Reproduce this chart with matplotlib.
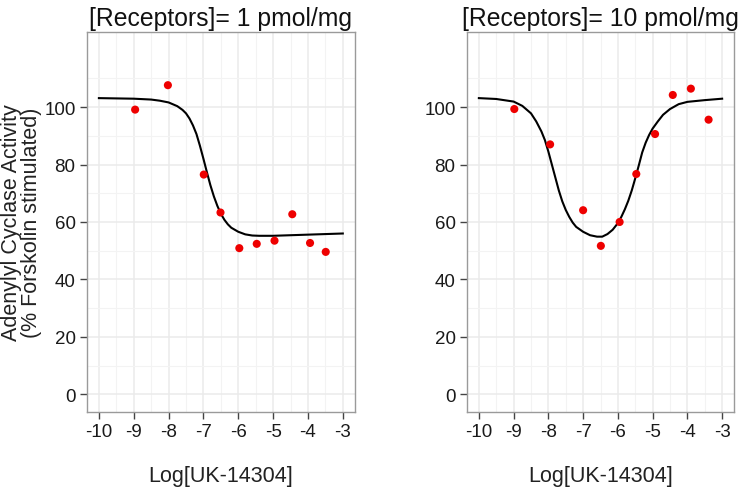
import matplotlib
matplotlib.use("Agg")
import matplotlib.pyplot as plt
from matplotlib.ticker import FixedLocator

plt.rcParams['font.family'] = ['Liberation Sans', 'DejaVu Sans']

# ---- data ----
titles = ["[Receptors]= 1 pmol/mg", "[Receptors]= 10 pmol/mg"]

pts1_x = [-8.96, -8.02, -6.99, -6.51, -5.97, -5.47, -4.96, -4.45, -3.94, -3.49]
pts1_y = [99.1, 107.6, 76.5, 63.3, 50.9, 52.4, 53.5, 62.7, 52.7, 49.6]

fit1_x = [-10.0, -9.5, -9.0, -8.5, -8.25, -8.0, -7.75, -7.6, -7.5, -7.4,
          -7.3, -7.2, -7.1, -7.0, -6.9, -6.8, -6.7, -6.6, -6.5, -6.4,
          -6.3, -6.2, -6.0, -5.8, -5.6, -5.4, -5.0, -4.5, -4.0, -3.5, -3.0]
fit1_y = [103.1, 103.0, 102.9, 102.6, 102.2, 101.6, 100.3, 99.0, 97.8, 96.0,
          93.6, 90.6, 86.5, 82.0, 77.3, 72.8, 68.9, 65.6, 62.9, 60.8,
          59.2, 58.0, 56.6, 55.7, 55.3, 55.2, 55.2, 55.4, 55.6, 55.8, 56.0]

pts2_x = [-8.98, -7.95, -7.0, -6.49, -5.95, -5.47, -4.93, -4.42, -3.90, -3.39]
pts2_y = [99.3, 87.0, 64.1, 51.7, 60.0, 76.7, 90.6, 104.2, 106.4, 95.6]

fit2_x = [-10.0, -9.5, -9.0, -8.75, -8.5, -8.35, -8.2, -8.1, -8.0, -7.9,
          -7.8, -7.7, -7.6, -7.5, -7.4, -7.3, -7.2, -7.0, -6.8, -6.6,
          -6.45, -6.3, -6.15, -6.0, -5.9, -5.8, -5.7, -5.6, -5.5, -5.4,
          -5.3, -5.2, -5.1, -5.0, -4.85, -4.7, -4.5, -4.25, -4.0, -3.5, -3.0]
fit2_y = [103.1, 102.8, 101.9, 100.4, 97.8, 95.0, 91.5, 88.5, 84.5, 80.0,
          75.5, 71.0, 67.2, 64.2, 61.8, 59.8, 58.3, 56.6, 55.4, 54.9,
          54.9, 55.8, 57.3, 59.6, 61.8, 64.4, 67.4, 71.0, 75.2, 79.6,
          84.2, 87.6, 90.3, 92.5, 95.0, 97.3, 99.3, 101.0, 101.8, 102.4, 102.9]

x_ticks = [-10, -9, -8, -7, -6, -5, -4, -3]
y_ticks = [0, 20, 40, 60, 80, 100]
xlabel = "Log[UK-14304]"
ylabel_lines = ["Adenylyl Cyclase Activity", "(% Forskolin stimulated)"]

panels = [(pts1_x, pts1_y, fit1_x, fit1_y), (pts2_x, pts2_y, fit2_x, fit2_y)]

W, H = 742, 489
fig = plt.figure(figsize=(W / 100, H / 100), dpi=100)

rects = [(86.7, 33.3, 355.0, 412.7), (466.7, 33.3, 734.3, 412.7)]

for i, ((px, py, fx, fy), (l, t, r, b)) in enumerate(zip(panels, rects)):
    ax = fig.add_axes([l / W, 1 - b / H, (r - l) / W, (b - t) / H])
    ax.set_xlim(-10.35, -2.65)
    ax.set_ylim(-6, 126)
    ax.xaxis.set_major_locator(FixedLocator(x_ticks))
    ax.yaxis.set_major_locator(FixedLocator(y_ticks))
    ax.xaxis.set_minor_locator(FixedLocator([-9.5, -8.5, -7.5, -6.5, -5.5, -4.5, -3.5]))
    ax.yaxis.set_minor_locator(FixedLocator([10, 30, 50, 70, 90, 110]))
    ax.grid(True, which='major', color='#EBEBEB', linewidth=1.1)
    ax.grid(True, which='minor', color='#F3F3F3', linewidth=0.8)
    ax.set_axisbelow(True)
    ax.tick_params(which='minor', length=0)
    ax.tick_params(which='major', length=5, width=1.0, color='#444444',
                   labelsize=13.5, labelcolor='#1a1a1a', pad=3)
    for s in ax.spines.values():
        s.set_color('#9a9a9a')
        s.set_linewidth(1.0)
    ax.plot(fx, fy, color='black', linewidth=1.5, zorder=3,
            solid_joinstyle='round')
    ax.scatter(px, py, s=34, color='#EE0000', edgecolors='none', zorder=4)
    ax.set_xticklabels([str(v) for v in x_ticks])
    ax.set_yticklabels([str(v) for v in y_ticks])
    ax.set_title(titles[i], fontsize=17.8, color='#111111', pad=5)
    fig.text((l + r) / 2 / W, 1 - 477 / H, xlabel, fontsize=15.5,
             color='#222222', ha='center', va='center')

cy = 1 - 223 / H
fig.text(11.5 / W, cy, ylabel_lines[0], rotation=90, fontsize=15.5,
         color='#222222', ha='center', va='center')
fig.text(31.8 / W, cy, ylabel_lines[1], rotation=90, fontsize=15.5,
         color='#222222', ha='center', va='center')

fig.savefig("out.png", dpi=100)
